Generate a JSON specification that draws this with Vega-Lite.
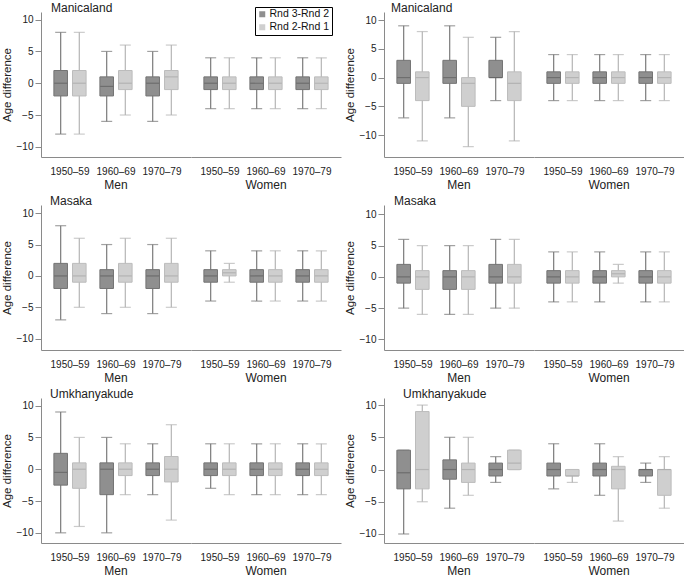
{
  "$schema": "https://vega.github.io/schema/vega-lite/v6.json",
  "padding": {"left": 1, "top": 2, "right": 0, "bottom": 0},
  "background": "white",
  "config": {
    "font": "Liberation Sans, Arial, sans-serif",
    "view": {"stroke": null},
    "axis": {"domainColor": "#8a8a8a", "tickColor": "#8a8a8a", "labelColor": "#222", "titleColor": "#222", "grid": false, "labelFontSize": 10, "titleFontSize": 11.5, "titleFontWeight": "normal"},
    "axisY": {"values": [-10, -5, 0, 5, 10], "tickSize": 6, "titlePadding": 4},
    "axisX": {"title": null, "labelAngle": 0, "ticks": false, "labelPadding": 9},
    "header": {"labelFontSize": 12, "labelColor": "#222", "title": null, "labelOrient": "bottom", "labelPadding": 4},
    "title": {"fontSize": 12, "fontWeight": "normal", "color": "#222", "anchor": "start", "frame": "group", "offset": -3},
    "tick": {"thickness": 1.2},
    "facet": {"spacing": 0}
  },
  "data": {"values": [
    {"p":"LM","sex":"Men","cohort":"1950–59","s":"Rnd 3-Rnd 2","lo":-8,"q1":-2,"med":0,"q3":2,"hi":8},
    {"p":"LM","sex":"Men","cohort":"1950–59","s":"Rnd 2-Rnd 1","lo":-8,"q1":-2,"med":0,"q3":2,"hi":8},
    {"p":"LM","sex":"Men","cohort":"1960–69","s":"Rnd 3-Rnd 2","lo":-6,"q1":-2,"med":-0.5,"q3":1,"hi":5},
    {"p":"LM","sex":"Men","cohort":"1960–69","s":"Rnd 2-Rnd 1","lo":-5,"q1":-1,"med":0,"q3":2,"hi":6},
    {"p":"LM","sex":"Men","cohort":"1970–79","s":"Rnd 3-Rnd 2","lo":-6,"q1":-2,"med":0,"q3":1,"hi":5},
    {"p":"LM","sex":"Men","cohort":"1970–79","s":"Rnd 2-Rnd 1","lo":-5,"q1":-1,"med":1,"q3":2,"hi":6},
    {"p":"LM","sex":"Women","cohort":"1950–59","s":"Rnd 3-Rnd 2","lo":-4,"q1":-1,"med":0,"q3":1,"hi":4},
    {"p":"LM","sex":"Women","cohort":"1950–59","s":"Rnd 2-Rnd 1","lo":-4,"q1":-1,"med":0,"q3":1,"hi":4},
    {"p":"LM","sex":"Women","cohort":"1960–69","s":"Rnd 3-Rnd 2","lo":-4,"q1":-1,"med":0,"q3":1,"hi":4},
    {"p":"LM","sex":"Women","cohort":"1960–69","s":"Rnd 2-Rnd 1","lo":-4,"q1":-1,"med":0,"q3":1,"hi":4},
    {"p":"LM","sex":"Women","cohort":"1970–79","s":"Rnd 3-Rnd 2","lo":-4,"q1":-1,"med":0,"q3":1,"hi":4},
    {"p":"LM","sex":"Women","cohort":"1970–79","s":"Rnd 2-Rnd 1","lo":-4,"q1":-1,"med":0,"q3":1,"hi":4},

    {"p":"RM","sex":"Men","cohort":"1950–59","s":"Rnd 3-Rnd 2","lo":-7,"q1":-1,"med":0,"q3":3,"hi":9},
    {"p":"RM","sex":"Men","cohort":"1950–59","s":"Rnd 2-Rnd 1","lo":-11,"q1":-4,"med":0,"q3":1,"hi":8},
    {"p":"RM","sex":"Men","cohort":"1960–69","s":"Rnd 3-Rnd 2","lo":-7,"q1":-1,"med":0,"q3":3,"hi":9},
    {"p":"RM","sex":"Men","cohort":"1960–69","s":"Rnd 2-Rnd 1","lo":-12,"q1":-5,"med":-1,"q3":0,"hi":7},
    {"p":"RM","sex":"Men","cohort":"1970–79","s":"Rnd 3-Rnd 2","lo":-4,"q1":0,"med":0,"q3":3,"hi":7},
    {"p":"RM","sex":"Men","cohort":"1970–79","s":"Rnd 2-Rnd 1","lo":-11,"q1":-4,"med":-1,"q3":1,"hi":8},
    {"p":"RM","sex":"Women","cohort":"1950–59","s":"Rnd 3-Rnd 2","lo":-4,"q1":-1,"med":0,"q3":1,"hi":4},
    {"p":"RM","sex":"Women","cohort":"1950–59","s":"Rnd 2-Rnd 1","lo":-4,"q1":-1,"med":0,"q3":1,"hi":4},
    {"p":"RM","sex":"Women","cohort":"1960–69","s":"Rnd 3-Rnd 2","lo":-4,"q1":-1,"med":0,"q3":1,"hi":4},
    {"p":"RM","sex":"Women","cohort":"1960–69","s":"Rnd 2-Rnd 1","lo":-4,"q1":-1,"med":0,"q3":1,"hi":4},
    {"p":"RM","sex":"Women","cohort":"1970–79","s":"Rnd 3-Rnd 2","lo":-4,"q1":-1,"med":0,"q3":1,"hi":4},
    {"p":"RM","sex":"Women","cohort":"1970–79","s":"Rnd 2-Rnd 1","lo":-4,"q1":-1,"med":0,"q3":1,"hi":4},

    {"p":"LK","sex":"Men","cohort":"1950–59","s":"Rnd 3-Rnd 2","lo":-7,"q1":-2,"med":0,"q3":2,"hi":8},
    {"p":"LK","sex":"Men","cohort":"1950–59","s":"Rnd 2-Rnd 1","lo":-5,"q1":-1,"med":0,"q3":2,"hi":6},
    {"p":"LK","sex":"Men","cohort":"1960–69","s":"Rnd 3-Rnd 2","lo":-6,"q1":-2,"med":0,"q3":1,"hi":5},
    {"p":"LK","sex":"Men","cohort":"1960–69","s":"Rnd 2-Rnd 1","lo":-5,"q1":-1,"med":0,"q3":2,"hi":6},
    {"p":"LK","sex":"Men","cohort":"1970–79","s":"Rnd 3-Rnd 2","lo":-6,"q1":-2,"med":0,"q3":1,"hi":5},
    {"p":"LK","sex":"Men","cohort":"1970–79","s":"Rnd 2-Rnd 1","lo":-5,"q1":-1,"med":0,"q3":2,"hi":6},
    {"p":"LK","sex":"Women","cohort":"1950–59","s":"Rnd 3-Rnd 2","lo":-4,"q1":-1,"med":0,"q3":1,"hi":4},
    {"p":"LK","sex":"Women","cohort":"1950–59","s":"Rnd 2-Rnd 1","lo":-1,"q1":0,"med":0.5,"q3":1,"hi":2},
    {"p":"LK","sex":"Women","cohort":"1960–69","s":"Rnd 3-Rnd 2","lo":-4,"q1":-1,"med":0,"q3":1,"hi":4},
    {"p":"LK","sex":"Women","cohort":"1960–69","s":"Rnd 2-Rnd 1","lo":-4,"q1":-1,"med":0,"q3":1,"hi":4},
    {"p":"LK","sex":"Women","cohort":"1970–79","s":"Rnd 3-Rnd 2","lo":-4,"q1":-1,"med":0,"q3":1,"hi":4},
    {"p":"LK","sex":"Women","cohort":"1970–79","s":"Rnd 2-Rnd 1","lo":-4,"q1":-1,"med":0,"q3":1,"hi":4},

    {"p":"RK","sex":"Men","cohort":"1950–59","s":"Rnd 3-Rnd 2","lo":-5,"q1":-1,"med":0,"q3":2,"hi":6},
    {"p":"RK","sex":"Men","cohort":"1950–59","s":"Rnd 2-Rnd 1","lo":-6,"q1":-2,"med":0,"q3":1,"hi":5},
    {"p":"RK","sex":"Men","cohort":"1960–69","s":"Rnd 3-Rnd 2","lo":-6,"q1":-2,"med":0,"q3":1,"hi":5},
    {"p":"RK","sex":"Men","cohort":"1960–69","s":"Rnd 2-Rnd 1","lo":-6,"q1":-2,"med":0,"q3":1,"hi":5},
    {"p":"RK","sex":"Men","cohort":"1970–79","s":"Rnd 3-Rnd 2","lo":-5,"q1":-1,"med":0,"q3":2,"hi":6},
    {"p":"RK","sex":"Men","cohort":"1970–79","s":"Rnd 2-Rnd 1","lo":-5,"q1":-1,"med":0,"q3":2,"hi":6},
    {"p":"RK","sex":"Women","cohort":"1950–59","s":"Rnd 3-Rnd 2","lo":-4,"q1":-1,"med":0,"q3":1,"hi":4},
    {"p":"RK","sex":"Women","cohort":"1950–59","s":"Rnd 2-Rnd 1","lo":-4,"q1":-1,"med":0,"q3":1,"hi":4},
    {"p":"RK","sex":"Women","cohort":"1960–69","s":"Rnd 3-Rnd 2","lo":-4,"q1":-1,"med":0,"q3":1,"hi":4},
    {"p":"RK","sex":"Women","cohort":"1960–69","s":"Rnd 2-Rnd 1","lo":-1,"q1":0,"med":0.5,"q3":1,"hi":2},
    {"p":"RK","sex":"Women","cohort":"1970–79","s":"Rnd 3-Rnd 2","lo":-4,"q1":-1,"med":0,"q3":1,"hi":4},
    {"p":"RK","sex":"Women","cohort":"1970–79","s":"Rnd 2-Rnd 1","lo":-4,"q1":-1,"med":0,"q3":1,"hi":4},

    {"p":"LU","sex":"Men","cohort":"1950–59","s":"Rnd 3-Rnd 2","lo":-10,"q1":-2.5,"med":-0.5,"q3":2.5,"hi":9},
    {"p":"LU","sex":"Men","cohort":"1950–59","s":"Rnd 2-Rnd 1","lo":-9,"q1":-3,"med":0,"q3":1,"hi":5},
    {"p":"LU","sex":"Men","cohort":"1960–69","s":"Rnd 3-Rnd 2","lo":-10,"q1":-4,"med":0,"q3":1,"hi":5},
    {"p":"LU","sex":"Men","cohort":"1960–69","s":"Rnd 2-Rnd 1","lo":-4,"q1":-1,"med":0,"q3":1,"hi":4},
    {"p":"LU","sex":"Men","cohort":"1970–79","s":"Rnd 3-Rnd 2","lo":-4,"q1":-1,"med":0,"q3":1,"hi":4},
    {"p":"LU","sex":"Men","cohort":"1970–79","s":"Rnd 2-Rnd 1","lo":-8,"q1":-2,"med":0,"q3":2,"hi":7},
    {"p":"LU","sex":"Women","cohort":"1950–59","s":"Rnd 3-Rnd 2","lo":-3,"q1":-1,"med":0,"q3":1,"hi":4},
    {"p":"LU","sex":"Women","cohort":"1950–59","s":"Rnd 2-Rnd 1","lo":-4,"q1":-1,"med":0,"q3":1,"hi":4},
    {"p":"LU","sex":"Women","cohort":"1960–69","s":"Rnd 3-Rnd 2","lo":-4,"q1":-1,"med":0,"q3":1,"hi":4},
    {"p":"LU","sex":"Women","cohort":"1960–69","s":"Rnd 2-Rnd 1","lo":-4,"q1":-1,"med":0,"q3":1,"hi":4},
    {"p":"LU","sex":"Women","cohort":"1970–79","s":"Rnd 3-Rnd 2","lo":-4,"q1":-1,"med":0,"q3":1,"hi":4},
    {"p":"LU","sex":"Women","cohort":"1970–79","s":"Rnd 2-Rnd 1","lo":-4,"q1":-1,"med":0,"q3":1,"hi":4},

    {"p":"RU","sex":"Men","cohort":"1950–59","s":"Rnd 3-Rnd 2","lo":-10,"q1":-3,"med":-0.5,"q3":3,"hi":3},
    {"p":"RU","sex":"Men","cohort":"1950–59","s":"Rnd 2-Rnd 1","lo":-5,"q1":-3,"med":0,"q3":9,"hi":10},
    {"p":"RU","sex":"Men","cohort":"1960–69","s":"Rnd 3-Rnd 2","lo":-6,"q1":-1.5,"med":0,"q3":1.5,"hi":5},
    {"p":"RU","sex":"Men","cohort":"1960–69","s":"Rnd 2-Rnd 1","lo":-4,"q1":-2,"med":0,"q3":1,"hi":5},
    {"p":"RU","sex":"Men","cohort":"1970–79","s":"Rnd 3-Rnd 2","lo":-2,"q1":-1,"med":0,"q3":1,"hi":2},
    {"p":"RU","sex":"Men","cohort":"1970–79","s":"Rnd 2-Rnd 1","lo":0,"q1":0,"med":1,"q3":3,"hi":3},
    {"p":"RU","sex":"Women","cohort":"1950–59","s":"Rnd 3-Rnd 2","lo":-3,"q1":-1,"med":0,"q3":1,"hi":4},
    {"p":"RU","sex":"Women","cohort":"1950–59","s":"Rnd 2-Rnd 1","lo":-2,"q1":-1,"med":-1,"q3":0,"hi":0},
    {"p":"RU","sex":"Women","cohort":"1960–69","s":"Rnd 3-Rnd 2","lo":-4,"q1":-1,"med":0,"q3":1,"hi":4},
    {"p":"RU","sex":"Women","cohort":"1960–69","s":"Rnd 2-Rnd 1","lo":-8,"q1":-3,"med":0,"q3":0.5,"hi":2},
    {"p":"RU","sex":"Women","cohort":"1970–79","s":"Rnd 3-Rnd 2","lo":-2,"q1":-1,"med":0,"q3":0,"hi":1},
    {"p":"RU","sex":"Women","cohort":"1970–79","s":"Rnd 2-Rnd 1","lo":-6,"q1":-4,"med":0,"q3":0,"hi":2}
  ]},
  "spacing": 4,
  "resolve": {"legend": {"fill": "independent"}},
  "vconcat": [
    {"spacing": 3, "hconcat": [
      {"transform": [{"filter": "datum.p == 'LM'"}],
       "title": {"text": "Manicaland", "dx": 10},
       "facet": {"column": {"field": "sex", "type": "nominal"}},
       "spec": {
         "width": 150, "height": 145,
         "encoding": {
           "x": {"field": "cohort", "type": "nominal", "scale": {"paddingInner": 0.3, "paddingOuter": 0.28}},
           "xOffset": {"field": "s", "type": "nominal", "sort": ["Rnd 3-Rnd 2", "Rnd 2-Rnd 1"], "scale": {"paddingInner": 0.27}}
         },
         "layer": [
           {"mark": {"type": "rule", "strokeWidth": 1.2}, "encoding": {"y": {"field": "lo", "type": "quantitative", "title": "Age difference", "scale": {"domain": [-11.6, 11.2], "nice": false, "zero": false}}, "y2": {"field": "hi"}, "stroke": {"condition": {"test": "datum.s == 'Rnd 3-Rnd 2'", "value": "#7a7a7a"}, "value": "#b5b5b5"}}},
           {"mark": {"type": "tick", "size": 11}, "encoding": {"y": {"field": "lo", "type": "quantitative", "title": "Age difference"}, "color": {"condition": {"test": "datum.s == 'Rnd 3-Rnd 2'", "value": "#7a7a7a"}, "value": "#b5b5b5"}}},
           {"mark": {"type": "tick", "size": 11}, "encoding": {"y": {"field": "hi", "type": "quantitative", "title": "Age difference"}, "color": {"condition": {"test": "datum.s == 'Rnd 3-Rnd 2'", "value": "#7a7a7a"}, "value": "#b5b5b5"}}},
           {"mark": {"type": "bar", "strokeWidth": 1}, "encoding": {"y": {"field": "q1", "type": "quantitative", "title": "Age difference"}, "y2": {"field": "q3"}, "fill": {"field": "s", "type": "nominal", "sort": ["Rnd 3-Rnd 2", "Rnd 2-Rnd 1"], "scale": {"domain": ["Rnd 3-Rnd 2", "Rnd 2-Rnd 1"], "range": ["#8f8f8f", "#cfcfcf"]}, "legend": {"title": null, "orient": "none", "legendX": 214, "legendY": -5, "strokeColor": "#000", "padding": 2, "symbolType": "square", "symbolSize": 36, "symbolStrokeWidth": 0, "labelFontSize": 10.5, "labelColor": "#111", "rowPadding": 2, "labelOffset": 2}}, "stroke": {"condition": {"test": "datum.s == 'Rnd 3-Rnd 2'", "value": "#747474"}, "value": "#bcbcbc"}}},
           {"mark": {"type": "tick", "size": 13}, "encoding": {"y": {"field": "med", "type": "quantitative", "title": "Age difference"}, "color": {"condition": {"test": "datum.s == 'Rnd 3-Rnd 2'", "value": "#5f5f5f"}, "value": "#a8a8a8"}}}
         ]
       }
      },
      {"transform": [{"filter": "datum.p == 'RM'"}],
       "title": {"text": "Manicaland", "dx": 7},
       "facet": {"column": {"field": "sex", "type": "nominal"}},
       "spec": {
         "width": 150, "height": 145,
         "encoding": {
           "x": {"field": "cohort", "type": "nominal", "scale": {"paddingInner": 0.3, "paddingOuter": 0.28}},
           "xOffset": {"field": "s", "type": "nominal", "sort": ["Rnd 3-Rnd 2", "Rnd 2-Rnd 1"], "scale": {"paddingInner": 0.27}}
         },
         "layer": [
           {"mark": {"type": "rule", "strokeWidth": 1.2}, "encoding": {"y": {"field": "lo", "type": "quantitative", "title": "Age difference", "scale": {"domain": [-13.8, 11.4], "nice": false, "zero": false}}, "y2": {"field": "hi"}, "stroke": {"condition": {"test": "datum.s == 'Rnd 3-Rnd 2'", "value": "#7a7a7a"}, "value": "#b5b5b5"}}},
           {"mark": {"type": "tick", "size": 11}, "encoding": {"y": {"field": "lo", "type": "quantitative", "title": "Age difference"}, "color": {"condition": {"test": "datum.s == 'Rnd 3-Rnd 2'", "value": "#7a7a7a"}, "value": "#b5b5b5"}}},
           {"mark": {"type": "tick", "size": 11}, "encoding": {"y": {"field": "hi", "type": "quantitative", "title": "Age difference"}, "color": {"condition": {"test": "datum.s == 'Rnd 3-Rnd 2'", "value": "#7a7a7a"}, "value": "#b5b5b5"}}},
           {"mark": {"type": "bar", "strokeWidth": 1}, "encoding": {"y": {"field": "q1", "type": "quantitative", "title": "Age difference"}, "y2": {"field": "q3"}, "fill": {"field": "s", "type": "nominal", "scale": {"domain": ["Rnd 3-Rnd 2", "Rnd 2-Rnd 1"], "range": ["#8f8f8f", "#cfcfcf"]}, "legend": null}, "stroke": {"condition": {"test": "datum.s == 'Rnd 3-Rnd 2'", "value": "#747474"}, "value": "#bcbcbc"}}},
           {"mark": {"type": "tick", "size": 13}, "encoding": {"y": {"field": "med", "type": "quantitative", "title": "Age difference"}, "color": {"condition": {"test": "datum.s == 'Rnd 3-Rnd 2'", "value": "#5f5f5f"}, "value": "#a8a8a8"}}}
         ]
       }
      }
    ]},
    {"spacing": 3, "hconcat": [
      {"transform": [{"filter": "datum.p == 'LK'"}],
       "title": {"text": "Masaka", "dx": 9},
       "facet": {"column": {"field": "sex", "type": "nominal"}},
       "spec": {
         "width": 150, "height": 145,
         "encoding": {
           "x": {"field": "cohort", "type": "nominal", "scale": {"paddingInner": 0.3, "paddingOuter": 0.28}},
           "xOffset": {"field": "s", "type": "nominal", "sort": ["Rnd 3-Rnd 2", "Rnd 2-Rnd 1"], "scale": {"paddingInner": 0.27}}
         },
         "layer": [
           {"mark": {"type": "rule", "strokeWidth": 1.2}, "encoding": {"y": {"field": "lo", "type": "quantitative", "title": "Age difference", "scale": {"domain": [-11.8, 11.3], "nice": false, "zero": false}}, "y2": {"field": "hi"}, "stroke": {"condition": {"test": "datum.s == 'Rnd 3-Rnd 2'", "value": "#7a7a7a"}, "value": "#b5b5b5"}}},
           {"mark": {"type": "tick", "size": 11}, "encoding": {"y": {"field": "lo", "type": "quantitative", "title": "Age difference"}, "color": {"condition": {"test": "datum.s == 'Rnd 3-Rnd 2'", "value": "#7a7a7a"}, "value": "#b5b5b5"}}},
           {"mark": {"type": "tick", "size": 11}, "encoding": {"y": {"field": "hi", "type": "quantitative", "title": "Age difference"}, "color": {"condition": {"test": "datum.s == 'Rnd 3-Rnd 2'", "value": "#7a7a7a"}, "value": "#b5b5b5"}}},
           {"mark": {"type": "bar", "strokeWidth": 1}, "encoding": {"y": {"field": "q1", "type": "quantitative", "title": "Age difference"}, "y2": {"field": "q3"}, "fill": {"field": "s", "type": "nominal", "scale": {"domain": ["Rnd 3-Rnd 2", "Rnd 2-Rnd 1"], "range": ["#8f8f8f", "#cfcfcf"]}, "legend": null}, "stroke": {"condition": {"test": "datum.s == 'Rnd 3-Rnd 2'", "value": "#747474"}, "value": "#bcbcbc"}}},
           {"mark": {"type": "tick", "size": 13}, "encoding": {"y": {"field": "med", "type": "quantitative", "title": "Age difference"}, "color": {"condition": {"test": "datum.s == 'Rnd 3-Rnd 2'", "value": "#5f5f5f"}, "value": "#a8a8a8"}}}
         ]
       }
      },
      {"transform": [{"filter": "datum.p == 'RK'"}],
       "title": {"text": "Masaka", "dx": 10},
       "facet": {"column": {"field": "sex", "type": "nominal"}},
       "spec": {
         "width": 150, "height": 145,
         "encoding": {
           "x": {"field": "cohort", "type": "nominal", "scale": {"paddingInner": 0.3, "paddingOuter": 0.28}},
           "xOffset": {"field": "s", "type": "nominal", "sort": ["Rnd 3-Rnd 2", "Rnd 2-Rnd 1"], "scale": {"paddingInner": 0.27}}
         },
         "layer": [
           {"mark": {"type": "rule", "strokeWidth": 1.2}, "encoding": {"y": {"field": "lo", "type": "quantitative", "title": "Age difference", "scale": {"domain": [-11.7, 11.5], "nice": false, "zero": false}}, "y2": {"field": "hi"}, "stroke": {"condition": {"test": "datum.s == 'Rnd 3-Rnd 2'", "value": "#7a7a7a"}, "value": "#b5b5b5"}}},
           {"mark": {"type": "tick", "size": 11}, "encoding": {"y": {"field": "lo", "type": "quantitative", "title": "Age difference"}, "color": {"condition": {"test": "datum.s == 'Rnd 3-Rnd 2'", "value": "#7a7a7a"}, "value": "#b5b5b5"}}},
           {"mark": {"type": "tick", "size": 11}, "encoding": {"y": {"field": "hi", "type": "quantitative", "title": "Age difference"}, "color": {"condition": {"test": "datum.s == 'Rnd 3-Rnd 2'", "value": "#7a7a7a"}, "value": "#b5b5b5"}}},
           {"mark": {"type": "bar", "strokeWidth": 1}, "encoding": {"y": {"field": "q1", "type": "quantitative", "title": "Age difference"}, "y2": {"field": "q3"}, "fill": {"field": "s", "type": "nominal", "scale": {"domain": ["Rnd 3-Rnd 2", "Rnd 2-Rnd 1"], "range": ["#8f8f8f", "#cfcfcf"]}, "legend": null}, "stroke": {"condition": {"test": "datum.s == 'Rnd 3-Rnd 2'", "value": "#747474"}, "value": "#bcbcbc"}}},
           {"mark": {"type": "tick", "size": 13}, "encoding": {"y": {"field": "med", "type": "quantitative", "title": "Age difference"}, "color": {"condition": {"test": "datum.s == 'Rnd 3-Rnd 2'", "value": "#5f5f5f"}, "value": "#a8a8a8"}}}
         ]
       }
      }
    ]},
    {"spacing": 3, "hconcat": [
      {"transform": [{"filter": "datum.p == 'LU'"}],
       "title": {"text": "Umkhanyakude", "dx": 9},
       "facet": {"column": {"field": "sex", "type": "nominal"}},
       "spec": {
         "width": 150, "height": 145,
         "encoding": {
           "x": {"field": "cohort", "type": "nominal", "scale": {"paddingInner": 0.3, "paddingOuter": 0.28}},
           "xOffset": {"field": "s", "type": "nominal", "sort": ["Rnd 3-Rnd 2", "Rnd 2-Rnd 1"], "scale": {"paddingInner": 0.27}}
         },
         "layer": [
           {"mark": {"type": "rule", "strokeWidth": 1.2}, "encoding": {"y": {"field": "lo", "type": "quantitative", "title": "Age difference", "scale": {"domain": [-11.6, 11.2], "nice": false, "zero": false}}, "y2": {"field": "hi"}, "stroke": {"condition": {"test": "datum.s == 'Rnd 3-Rnd 2'", "value": "#7a7a7a"}, "value": "#b5b5b5"}}},
           {"mark": {"type": "tick", "size": 11}, "encoding": {"y": {"field": "lo", "type": "quantitative", "title": "Age difference"}, "color": {"condition": {"test": "datum.s == 'Rnd 3-Rnd 2'", "value": "#7a7a7a"}, "value": "#b5b5b5"}}},
           {"mark": {"type": "tick", "size": 11}, "encoding": {"y": {"field": "hi", "type": "quantitative", "title": "Age difference"}, "color": {"condition": {"test": "datum.s == 'Rnd 3-Rnd 2'", "value": "#7a7a7a"}, "value": "#b5b5b5"}}},
           {"mark": {"type": "bar", "strokeWidth": 1}, "encoding": {"y": {"field": "q1", "type": "quantitative", "title": "Age difference"}, "y2": {"field": "q3"}, "fill": {"field": "s", "type": "nominal", "scale": {"domain": ["Rnd 3-Rnd 2", "Rnd 2-Rnd 1"], "range": ["#8f8f8f", "#cfcfcf"]}, "legend": null}, "stroke": {"condition": {"test": "datum.s == 'Rnd 3-Rnd 2'", "value": "#747474"}, "value": "#bcbcbc"}}},
           {"mark": {"type": "tick", "size": 13}, "encoding": {"y": {"field": "med", "type": "quantitative", "title": "Age difference"}, "color": {"condition": {"test": "datum.s == 'Rnd 3-Rnd 2'", "value": "#5f5f5f"}, "value": "#a8a8a8"}}}
         ]
       }
      },
      {"transform": [{"filter": "datum.p == 'RU'"}],
       "title": {"text": "Umkhanyakude", "dx": 19},
       "facet": {"column": {"field": "sex", "type": "nominal"}},
       "spec": {
         "width": 150, "height": 145,
         "encoding": {
           "x": {"field": "cohort", "type": "nominal", "scale": {"paddingInner": 0.3, "paddingOuter": 0.28}},
           "xOffset": {"field": "s", "type": "nominal", "sort": ["Rnd 3-Rnd 2", "Rnd 2-Rnd 1"], "scale": {"paddingInner": 0.27}}
         },
         "layer": [
           {"mark": {"type": "rule", "strokeWidth": 1.2}, "encoding": {"y": {"field": "lo", "type": "quantitative", "title": "Age difference", "scale": {"domain": [-11.4, 11.1], "nice": false, "zero": false}}, "y2": {"field": "hi"}, "stroke": {"condition": {"test": "datum.s == 'Rnd 3-Rnd 2'", "value": "#7a7a7a"}, "value": "#b5b5b5"}}},
           {"mark": {"type": "tick", "size": 11}, "encoding": {"y": {"field": "lo", "type": "quantitative", "title": "Age difference"}, "color": {"condition": {"test": "datum.s == 'Rnd 3-Rnd 2'", "value": "#7a7a7a"}, "value": "#b5b5b5"}}},
           {"mark": {"type": "tick", "size": 11}, "encoding": {"y": {"field": "hi", "type": "quantitative", "title": "Age difference"}, "color": {"condition": {"test": "datum.s == 'Rnd 3-Rnd 2'", "value": "#7a7a7a"}, "value": "#b5b5b5"}}},
           {"mark": {"type": "bar", "strokeWidth": 1}, "encoding": {"y": {"field": "q1", "type": "quantitative", "title": "Age difference"}, "y2": {"field": "q3"}, "fill": {"field": "s", "type": "nominal", "scale": {"domain": ["Rnd 3-Rnd 2", "Rnd 2-Rnd 1"], "range": ["#8f8f8f", "#cfcfcf"]}, "legend": null}, "stroke": {"condition": {"test": "datum.s == 'Rnd 3-Rnd 2'", "value": "#747474"}, "value": "#bcbcbc"}}},
           {"mark": {"type": "tick", "size": 13}, "encoding": {"y": {"field": "med", "type": "quantitative", "title": "Age difference"}, "color": {"condition": {"test": "datum.s == 'Rnd 3-Rnd 2'", "value": "#5f5f5f"}, "value": "#a8a8a8"}}}
         ]
       }
      }
    ]}
  ]
}
